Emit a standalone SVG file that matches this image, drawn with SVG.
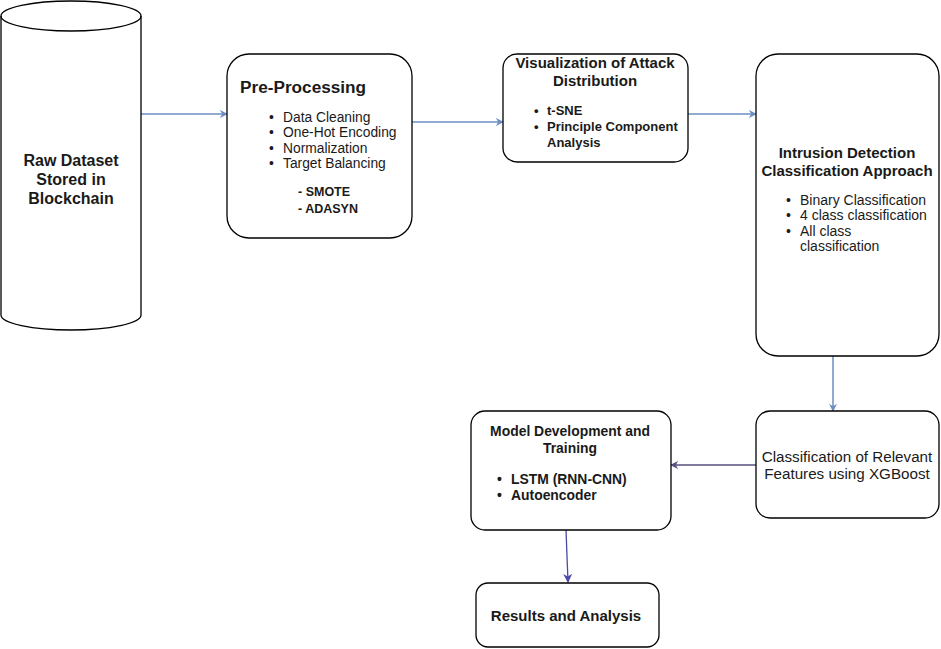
<svg xmlns="http://www.w3.org/2000/svg" width="941" height="649" viewBox="0 0 941 649">
<style>
.box{fill:#fff;stroke:#000;stroke-width:1.3}
text{font-family:"Liberation Sans",Arial,sans-serif;fill:#1a1a1a}
.b{font-weight:bold}
.c{text-anchor:middle}
.lb{stroke:#6c8ebf;stroke-width:1.5;fill:none}
</style>
<defs>
<marker id="ab" viewBox="0 0 10 10" refX="9" refY="5" markerWidth="8" markerHeight="8" markerUnits="userSpaceOnUse" orient="auto">
<path d="M0,0 L10,5 L0,10 L3,5 Z" fill="#6c8ebf"/>
</marker>
<marker id="ad" viewBox="0 0 10 10" refX="9" refY="5" markerWidth="8" markerHeight="8" markerUnits="userSpaceOnUse" orient="auto">
<path d="M0,0 L10,5 L0,10 L3,5 Z" fill="#56517e"/>
</marker>
<marker id="ap" viewBox="0 0 10 10" refX="9" refY="5" markerWidth="9" markerHeight="9" markerUnits="userSpaceOnUse" orient="auto">
<path d="M0,0 L10,5 L0,10 L3,5 Z" fill="#4a4aa8"/>
</marker>
</defs>
<rect width="941" height="649" fill="#fff"/>
<g id="connectors">
<line class="lb" x1="141" y1="114" x2="227" y2="114" marker-end="url(#ab)"/>
<line class="lb" x1="412" y1="122" x2="503" y2="122" marker-end="url(#ab)"/>
<line class="lb" x1="688" y1="114" x2="756" y2="114" marker-end="url(#ab)"/>
<line class="lb" x1="833" y1="356" x2="833" y2="411" marker-end="url(#ab)"/>
<line x1="756" y1="465" x2="671" y2="465" stroke="#56517e" stroke-width="1.3" marker-end="url(#ad)"/>
<line x1="566" y1="530" x2="568" y2="582" stroke="#4a4aa8" stroke-width="1.3" marker-end="url(#ap)"/>
</g>
<g id="raw">
<path class="box" d="M1,16 A70,15 0 0 1 141,16 L141,315 A70,15 0 0 1 1,315 Z"/>
<path class="box" style="fill:none" d="M1,16 A70,15 0 0 0 141,16"/>
<text class="b c" x="71" y="166" font-size="16">Raw Dataset</text>
<text class="b c" x="71" y="185" font-size="16">Stored in</text>
<text class="b c" x="71" y="204" font-size="16">Blockchain</text>
</g>
<g id="preprocessing">
<rect class="box" x="227" y="54" width="185" height="184" rx="22"/>
<text class="b" x="240" y="93" font-size="17.2">Pre-Processing</text>
<g font-size="13.8">
<text x="269" y="122">•</text><text x="283" y="122">Data Cleaning</text>
<text x="269" y="137">•</text><text x="283" y="137">One-Hot Encoding</text>
<text x="269" y="153">•</text><text x="283" y="153">Normalization</text>
<text x="269" y="168">•</text><text x="283" y="168">Target Balancing</text>
</g>
<g font-size="12.5" class="b">
<text x="298" y="196">- SMOTE</text>
<text x="298" y="213">- ADASYN</text>
</g>
</g>
<g id="visualization">
<rect class="box" x="503" y="54" width="185" height="108" rx="14"/>
<text class="b c" x="595" y="68" font-size="15">Visualization of Attack</text>
<text class="b c" x="595" y="86" font-size="15">Distribution</text>
<g font-size="13" class="b">
<text x="534" y="115">•</text><text x="547" y="115">t-SNE</text>
<text x="534" y="131">•</text><text x="547" y="131">Principle Component</text>
<text x="547" y="147">Analysis</text>
</g>
</g>
<g id="intrusion">
<rect class="box" x="756" y="54" width="183" height="302" rx="22"/>
<text class="b c" x="847" y="158" font-size="15">Intrusion Detection</text>
<text class="b c" x="847" y="176" font-size="15">Classification Approach</text>
<g font-size="14">
<text x="786" y="205">•</text><text x="800" y="205">Binary Classification</text>
<text x="786" y="220">•</text><text x="800" y="220">4 class classification</text>
<text x="786" y="236">•</text><text x="800" y="236">All class</text>
<text x="800" y="251">classification</text>
</g>
</g>
<g id="xgboost">
<rect class="box" x="756" y="411" width="183" height="107" rx="14"/>
<text class="c" x="847" y="462" font-size="15.2">Classification of Relevant</text>
<text class="c" x="847" y="479" font-size="15.2">Features using XGBoost</text>
</g>
<g id="model">
<rect class="box" x="471" y="411" width="200" height="119" rx="14"/>
<text class="b c" x="570" y="436" font-size="13.9">Model Development and</text>
<text class="b c" x="570" y="453" font-size="13.9">Training</text>
<g font-size="13.9" class="b">
<text x="497" y="484">•</text><text x="511" y="484">LSTM (RNN-CNN)</text>
<text x="497" y="500">•</text><text x="511" y="500">Autoencoder</text>
</g>
</g>
<g id="results">
<rect class="box" x="476" y="583" width="183" height="64" rx="12"/>
<text class="b c" x="566" y="621" font-size="15">Results and Analysis</text>
</g>
</svg>
